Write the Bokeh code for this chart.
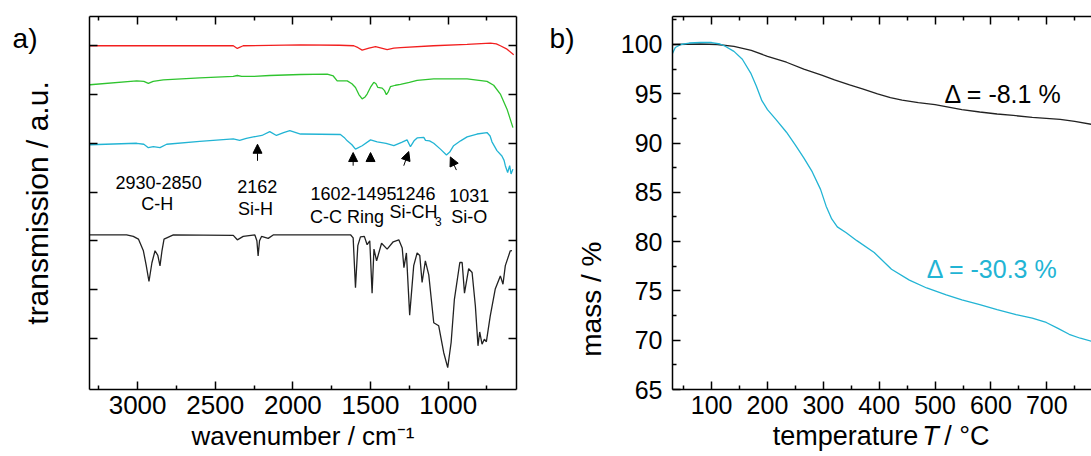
from bokeh.plotting import figure
from bokeh.models import (Range1d, LinearAxis, FixedTicker, Label, Arrow,
                          NormalHead, ColumnDataSource, CustomJSTickFormatter)
from bokeh.layouts import row
from bokeh.embed import file_html
from bokeh.resources import INLINE

FONT = "Liberation Sans"
RED = "#F21F1F"
GREEN = "#2FC42F"
CYAN = "#22B4D4"

# ---------------- panel a: IR spectra (offset, arbitrary units) ----------------
red_wn = [3307, 2600, 2384, 2358, 2320, 1951, 1700, 1608, 1580, 1554, 1510, 1468, 1430,
          1393, 1350, 1307, 1095, 878, 728, 690, 664, 621, 578]
red_tr = [7.00, 7.00, 7.00, 6.945, 7.00, 7.02, 7.01, 7.00, 6.96, 6.91, 6.95, 6.98, 6.95,
          6.92, 6.95, 6.96, 7.00, 7.03, 7.055, 7.04, 7.00, 6.93, 6.815]

green_wn = [3307, 3006, 2960, 2931, 2900, 2835, 2600, 2384, 2358, 2330, 2255, 2150, 1951,
            1779, 1740, 1715, 1650, 1620, 1597, 1575, 1554, 1535, 1522, 1500, 1479, 1465,
            1453, 1425, 1410, 1398, 1385, 1372, 1340, 1307, 1250, 1200, 1093, 878, 750,
            707, 664, 621, 583]
green_tr = [6.20, 6.28, 6.27, 6.227, 6.27, 6.30, 6.34, 6.37, 6.39, 6.37, 6.37, 6.39, 6.41,
            6.42, 6.38, 6.28, 6.28, 6.22, 6.145, 6.00, 5.91, 5.95, 6.01, 6.15, 6.25, 6.22,
            6.145, 6.13, 6.08, 5.995, 6.06, 6.16, 6.19, 6.21, 6.25, 6.29, 6.32, 6.32, 6.27,
            6.19, 6.01, 5.70, 5.32]

cyan_wn = [3307, 3006, 2960, 2931, 2899, 2856, 2813, 2600, 2384, 2343, 2300, 2255, 2200,
           2149, 2106, 2060, 2020, 1951, 1694, 1670, 1650, 1620, 1597, 1554, 1500, 1457,
           1400, 1350, 1300, 1265, 1243, 1220, 1200, 1157, 1146, 1120, 1093, 1050, 1011,
           990, 965, 920, 878, 814, 750, 730, 718, 686, 654, 640, 632, 617, 604, 595, 583]
cyan_tr = [4.97, 5.00, 4.98, 4.91, 4.93, 4.91, 4.98, 5.04, 5.09, 5.06, 5.10, 5.13, 5.16,
           5.24, 5.16, 5.22, 5.26, 5.19, 5.18, 5.12, 5.05, 4.97, 4.88, 4.95, 5.07, 5.03,
           5.00, 4.95, 5.02, 5.07, 4.93, 5.05, 5.11, 5.12, 5.06, 5.05, 5.00, 4.88, 4.76,
           4.82, 4.95, 5.05, 5.13, 5.19, 5.22, 5.15, 5.03, 4.85, 4.74, 4.65, 4.54, 4.40,
           4.54, 4.37, 4.47]

black_wn = [3307, 3071, 3028, 2995, 2963, 2945, 2927, 2908, 2888, 2870, 2856, 2843, 2830,
            2770, 2384, 2358, 2320, 2245, 2232, 2224, 2215, 2202, 2159, 2127, 1951, 1629,
            1612, 1597, 1582, 1565, 1540, 1522, 1505, 1490, 1478, 1461, 1429, 1393, 1354,
            1318, 1296, 1285, 1269, 1248, 1222, 1200, 1183, 1168, 1147, 1125, 1093, 1061,
            1029, 1003, 981, 960, 925, 910, 895, 868, 846, 825, 808, 797, 782, 767, 754,
            729, 697, 664, 647, 632, 600, 589]
black_tr = [3.123, 3.12, 3.09, 3.035, 2.795, 2.50, 2.165, 2.55, 2.795, 2.70, 2.487, 2.80,
            3.035, 3.12, 3.11, 3.02, 3.09, 3.12, 3.00, 2.69, 3.00, 3.09, 3.05, 3.12, 3.123,
            3.123, 3.06, 2.04, 2.90, 3.08, 3.09, 2.92, 3.00, 1.927, 2.83, 2.59, 2.95, 2.83,
            2.98, 3.02, 2.85, 2.45, 2.75, 1.476, 2.49, 2.75, 2.70, 2.145, 2.59, 2.30, 1.32,
            1.256, 0.709, 0.40, 0.914, 1.80, 2.555, 2.555, 1.927, 2.43, 2.35, 1.667, 0.846,
            1.13, 0.88, 0.98, 0.93, 1.46, 2.01, 2.28, 2.11, 2.49, 2.795, 2.80]

wn_ticks = [3000, 2500, 2000, 1500, 1000]
wn_minor = [3250, 2750, 2250, 1750, 1250, 750]
tr_ticks = [1, 2, 3, 4, 5, 6, 7]

# band annotations (wavenumber, level, text)
band_wn = [2865, 2873, 2230, 2241, 1610, 1211, 1652, 1224, 864, 864]
band_y = [4.196, 3.75, 4.11, 3.65, 3.96, 3.96, 3.49, 3.60, 3.92, 3.48]
band_txt = ["2930-2850", "C-H", "2162", "Si-H", "1602-1495", "1246", "C-C Ring",
            "Si-CH", "1031", "Si-O"]

arrow_x0 = [2228, 1612, 1500, 1286, 947]
arrow_y0 = [4.64, 4.54, 4.63, 4.54, 4.45]
arrow_x1 = [2228, 1612, 1500, 1254, 986]
arrow_y1 = [4.98, 4.81, 4.81, 4.83, 4.72]

# ---------------- panel b: TGA ----------------
tga_black_T = [30, 80, 110, 140, 171, 200, 234, 265, 297, 320, 347, 370, 397, 420, 441,
               470, 500, 548, 580, 611, 640, 674, 724, 750, 780]
tga_black_m = [100.0, 100.05, 100.0, 99.8, 99.4, 98.8, 98.2, 97.5, 96.9, 96.4, 95.9, 95.5,
               95.0, 94.6, 94.35, 94.1, 93.9, 93.4, 93.15, 92.95, 92.8, 92.6, 92.4, 92.2,
               91.9]
tga_cyan_T = [30, 35, 45, 60, 80, 100, 115, 125, 140, 155, 170, 180, 190, 200, 215, 234,
              250, 265, 280, 295, 305, 315, 325, 341, 360, 391, 422, 454, 485, 520, 548,
              580, 611, 645, 674, 699, 720, 740, 760, 780]
tga_cyan_m = [99.1, 99.7, 100.0, 100.15, 100.2, 100.2, 100.05, 99.8, 99.3, 98.5, 97.1,
              95.8, 94.3, 93.4, 92.4, 91.1, 89.8, 88.5, 87.1, 85.3, 83.6, 82.3, 81.5, 80.9,
              80.1, 78.9, 77.2, 76.1, 75.3, 74.6, 74.1, 73.6, 73.1, 72.6, 72.25, 71.8, 71.2,
              70.6, 70.2, 69.9]

T_ticks = [100, 200, 300, 400, 500, 600, 700]
T_minor = [50, 150, 250, 350, 450, 550, 650, 750]
m_ticks = [65, 70, 75, 80, 85, 90, 95, 100]
m_minor = [67.5, 72.5, 77.5, 82.5, 87.5, 92.5, 97.5, 102.5]

# x-axis title pieces of panel b (text, centre position in degC)
tt_pos = [339.6, 557.0]
tt_txt = ["temperature", "/ \u00b0C"]
tt_ital_pos = [491.8]
tt_ital_txt = ["T"]


def style_axis(ax, ticks, minor, labels=True, size="25px", standoff=6):
    ax.ticker = FixedTicker(ticks=ticks, minor_ticks=minor)
    ax.axis_line_color = "black"
    ax.axis_line_width = 1.5
    ax.major_tick_line_color = "black"
    ax.major_tick_line_width = 1.5
    ax.minor_tick_line_color = "black"
    ax.minor_tick_line_width = 1.5
    ax.major_tick_in = 8
    ax.major_tick_out = 0
    ax.minor_tick_in = 4
    ax.minor_tick_out = 0
    ax.axis_label_text_font = FONT
    ax.axis_label_text_font_size = "26px"
    ax.axis_label_text_font_style = "normal"
    ax.axis_label_text_color = "black"
    if labels:
        ax.major_label_text_font = FONT
        ax.major_label_text_font_size = size
        ax.major_label_text_color = "black"
        ax.major_label_standoff = standoff
    else:
        ax.formatter = CustomJSTickFormatter(code="return ''")
        ax.major_label_text_font_size = "0px"
        ax.major_label_standoff = 0


def text_axis(pos, names, size, standoff, style="normal", angle=None):
    """An axis without line or ticks that only carries text labels."""
    ax = LinearAxis(ticker=FixedTicker(ticks=pos, minor_ticks=[]),
                    formatter=CustomJSTickFormatter(
                        args=dict(tpos=pos, tnames=names),
                        code="const i = tpos.indexOf(tick); return i >= 0 ? tnames[i] : '';"))
    ax.axis_line_color = None
    ax.major_tick_line_color = None
    ax.minor_tick_line_color = None
    ax.major_tick_in = 0
    ax.major_tick_out = 0
    ax.minor_tick_in = 0
    ax.minor_tick_out = 0
    ax.major_label_text_font = FONT
    ax.major_label_text_font_size = size
    ax.major_label_text_font_style = style
    ax.major_label_text_color = "black"
    ax.major_label_standoff = standoff
    if angle is not None:
        ax.major_label_orientation = angle
    return ax


def lab(p, x, y, text, size="18px", color="black", align="center", base="middle"):
    p.add_layout(Label(x=x, y=y, text=text, text_font=FONT, text_font_size=size,
                       text_color=color, text_align=align, text_baseline=base))


# ---------------- figure a ----------------
pa = figure(width=540, height=456, output_backend="svg", toolbar_location=None,
            x_range=Range1d(3310, 560), y_range=Range1d(-0.05, 7.6),
            min_border_left=89, min_border_right=24, min_border_top=16,
            min_border_bottom=67)
pa.outline_line_color = None
pa.xgrid.visible = False
pa.ygrid.visible = False
pa.background_fill_color = "white"
pa.border_fill_color = "white"
style_axis(pa.xaxis[0], wn_ticks, wn_minor, True, size="26px", standoff=6)
pa.xaxis[0].axis_label = "wavenumber / cm\u207b\u00b9"
pa.xaxis[0].axis_label_standoff = 4
style_axis(pa.yaxis[0], tr_ticks, [], False)
pa.yaxis[0].axis_label = "transmission / a.u."
pa.yaxis[0].axis_label_text_font_size = "30px"
pa.yaxis[0].axis_label_standoff = 36
ta = LinearAxis()
style_axis(ta, wn_ticks, wn_minor, False)
pa.add_layout(ta, "above")
ra = LinearAxis()
style_axis(ra, tr_ticks, [], False)
pa.add_layout(ra, "right")
pa.add_layout(text_axis([7.14], ["a)"], "28px", -20), "left")

pa.line(red_wn, red_tr, line_color=RED, line_width=1.3)
pa.line(green_wn, green_tr, line_color=GREEN, line_width=1.3)
pa.line(cyan_wn, cyan_tr, line_color=CYAN, line_width=1.3)
pa.line(black_wn, black_tr, line_color="#222222", line_width=1.3)

for x, y, t in zip(band_wn, band_y, band_txt):
    lab(pa, x, y, t)
lab(pa, 1063, 3.40, "3", size="12px")

asrc = ColumnDataSource(dict(x0=arrow_x0, y0=arrow_y0, x1=arrow_x1, y1=arrow_y1))
pa.add_layout(Arrow(x_start="x0", y_start="y0", x_end="x1", y_end="y1", source=asrc,
                    line_color="black", line_width=1,
                    end=NormalHead(size=9, fill_color="black", line_color="black",
                                   line_width=1)))

# ---------------- figure b ----------------
pb = figure(width=551, height=456, output_backend="svg", toolbar_location=None,
            x_range=Range1d(30, 780), y_range=Range1d(65, 102.84),
            min_border_left=132, min_border_right=0, min_border_top=16,
            min_border_bottom=67)
pb.outline_line_color = None
pb.xgrid.visible = False
pb.ygrid.visible = False
pb.background_fill_color = "white"
pb.border_fill_color = "white"
style_axis(pb.xaxis[0], T_ticks, T_minor, True, standoff=6)
style_axis(pb.yaxis[0], m_ticks, m_minor, True, standoff=10)
tb = LinearAxis()
style_axis(tb, T_ticks, T_minor, False)
pb.add_layout(tb, "above")
pb.add_layout(text_axis([80.0], ["mass / %"], "28px", 26, angle=1.5708), "left")
pb.add_layout(text_axis([100.6], ["b)"], "28px", -17), "left")
pb.add_layout(text_axis(tt_pos, tt_txt, "27px", 4), "below")
pb.add_layout(text_axis(tt_ital_pos, tt_ital_txt, "27px", -33, style="italic"), "below")

pb.line(tga_black_T, tga_black_m, line_color="#222222", line_width=1.3)
pb.line(tga_cyan_T, tga_cyan_m, line_color=CYAN, line_width=1.3)

lab(pb, 517, 94.93, "\u0394 = -8.1 %", size="25px", align="left")
lab(pb, 485, 77.27, "\u0394 = -30.3 %", size="25px", color=CYAN, align="left")

layout = row(pa, pb)
open("out.html", "w").write(file_html(layout, INLINE))
